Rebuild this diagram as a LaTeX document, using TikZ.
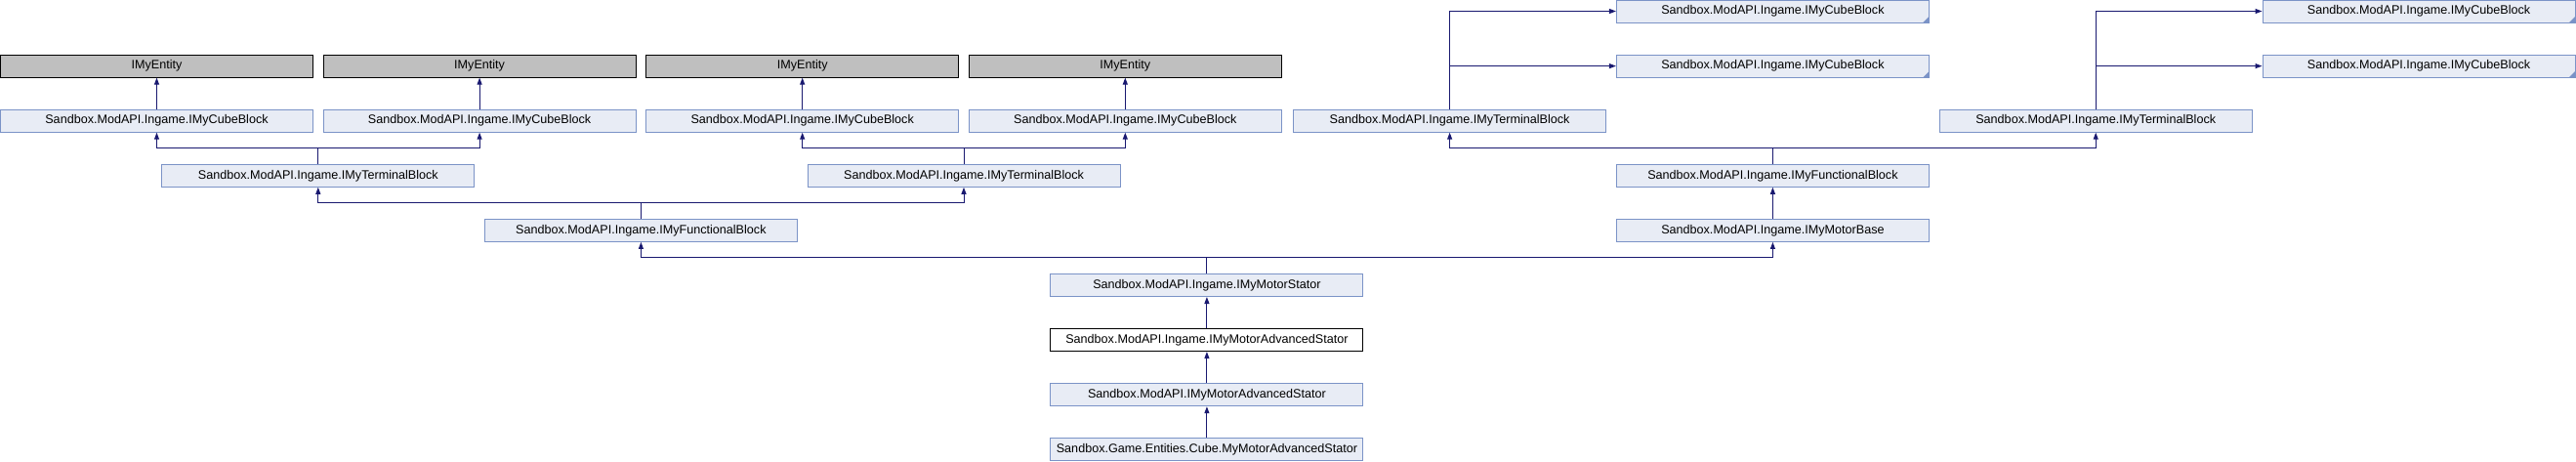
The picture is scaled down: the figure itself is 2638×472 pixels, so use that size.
\documentclass[tikz,border=0pt]{standalone}
\usepackage{fontspec}
\setmainfont{Liberation Sans}
\usetikzlibrary{arrows.meta}
\definecolor{edgecol}{HTML}{191970}
\definecolor{boxfill}{HTML}{E8ECF5}
\definecolor{boxline}{HTML}{7B93C7}
\definecolor{extfill}{HTML}{BFBFBF}
\begin{document}
\begin{tikzpicture}[x=1pt,y=1pt,
  base/.style={minimum width=320pt,minimum height=23pt,inner sep=0pt,line width=1pt,
    font=\fontsize{12.6}{14}\selectfont},
  cls/.style={base,draw=boxline,fill=boxfill},
  ext/.style={base,draw=black,fill=extfill},
  cur/.style={base,draw=black,fill=white},
  edge/.style={draw=edgecol,line width=1pt,-{Triangle[length=7pt,width=5pt]}},
  conn/.style={draw=edgecol,line width=1pt}]
\useasboundingbox (0,0) rectangle (2638,-472);
% rows
\def\ra{-11.5}
\def\rb{-67.6}
\def\rc{-123.7}
\def\rd{-179.8}
\def\re{-235.9}
\def\rf{-292.0}
\def\rg{-348.1}
\def\rh{-404.2}
\def\ri{-460.3}
% IMyEntity row
\node[ext] (e1) at (160.5,\rb) {IMyEntity};
\node[ext] (e2) at (491.1,\rb) {IMyEntity};
\node[ext] (e3) at (821.7,\rb) {IMyEntity};
\node[ext] (e4) at (1152.3,\rb) {IMyEntity};
% cube blocks
\node[cls] (c1) at (160.5,\rc) {Sandbox.ModAPI.Ingame.IMyCubeBlock};
\node[cls] (c2) at (491.1,\rc) {Sandbox.ModAPI.Ingame.IMyCubeBlock};
\node[cls] (c3) at (821.7,\rc) {Sandbox.ModAPI.Ingame.IMyCubeBlock};
\node[cls] (c4) at (1152.3,\rc) {Sandbox.ModAPI.Ingame.IMyCubeBlock};
% terminal blocks left
\node[cls] (t1) at (325.8,\rd) {Sandbox.ModAPI.Ingame.IMyTerminalBlock};
\node[cls] (t2) at (987.0,\rd) {Sandbox.ModAPI.Ingame.IMyTerminalBlock};
% functional left
\node[cls] (f1) at (656.4,\re) {Sandbox.ModAPI.Ingame.IMyFunctionalBlock};
% right part
\node[cls] (rc1) at (1815.4,\ra) {Sandbox.ModAPI.Ingame.IMyCubeBlock};
\node[cls] (rc2) at (1815.4,\rb) {Sandbox.ModAPI.Ingame.IMyCubeBlock};
\node[cls] (rc3) at (2477.0,\ra) {Sandbox.ModAPI.Ingame.IMyCubeBlock};
\node[cls] (rc4) at (2477.0,\rb) {Sandbox.ModAPI.Ingame.IMyCubeBlock};
\node[cls] (rt1) at (1484.6,\rc) {Sandbox.ModAPI.Ingame.IMyTerminalBlock};
\node[cls] (rt2) at (2146.2,\rc) {Sandbox.ModAPI.Ingame.IMyTerminalBlock};
\node[cls] (rf) at (1815.4,\rd) {Sandbox.ModAPI.Ingame.IMyFunctionalBlock};
\node[cls] (mb) at (1815.4,\re) {Sandbox.ModAPI.Ingame.IMyMotorBase};
% center column
\node[cls] (ms) at (1235.9,\rf) {Sandbox.ModAPI.Ingame.IMyMotorStator};
\node[cur] (mas) at (1235.9,\rg) {Sandbox.ModAPI.Ingame.IMyMotorAdvancedStator};
\node[cls] (mas2) at (1235.9,\rh) {Sandbox.ModAPI.IMyMotorAdvancedStator};
\node[cls] (game) at (1235.9,\ri) {Sandbox.Game.Entities.Cube.MyMotorAdvancedStator};
% truncation marks
\foreach \n in {rc1,rc2,rc3,rc4}{
  \fill[boxline] ([xshift=-0.5pt,yshift=0.5pt]\n.south east) -- ++(0,6) -- ++(-6,-6) -- cycle;
}
% edges
\foreach \i in {1,2,3,4}{ \draw[edge] (c\i.north) -- (e\i.south); }
\draw[conn] (t1.north) -- ++(0,16.55) coordinate (t1m);
\draw[edge] (t1m) -| (c1.south);
\draw[edge] (t1m) -| (c2.south);
\draw[conn] (t2.north) -- ++(0,16.55) coordinate (t2m);
\draw[edge] (t2m) -| (c3.south);
\draw[edge] (t2m) -| (c4.south);
\draw[conn] (f1.north) -- ++(0,16.55) coordinate (f1m);
\draw[edge] (f1m) -| (t1.south);
\draw[edge] (f1m) -| (t2.south);
\draw[conn] (ms.north) -- ++(0,16.55) coordinate (msm);
\draw[edge] (msm) -| (f1.south);
\draw[edge] (msm) -| (mb.south);
\draw[edge] (mb.north) -- (rf.south);
\draw[conn] (rf.north) -- ++(0,16.55) coordinate (rfm);
\draw[edge] (rfm) -| (rt1.south);
\draw[edge] (rfm) -| (rt2.south);
\draw[edge] (rt1.north) |- (rc1.west);
\draw[edge] (rt1.north) |- (rc2.west);
\draw[edge] (rt2.north) |- (rc3.west);
\draw[edge] (rt2.north) |- (rc4.west);
\draw[edge] (mas.north) -- (ms.south);
\draw[edge] (mas2.north) -- (mas.south);
\draw[edge] (game.north) -- (mas2.south);
\end{tikzpicture}
\end{document}
